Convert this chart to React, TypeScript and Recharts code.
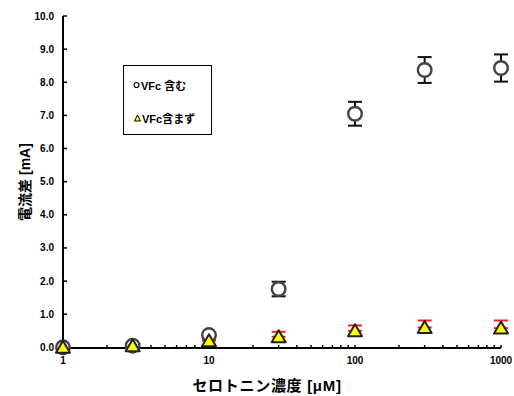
import { ScatterChart, Scatter, XAxis, YAxis, ErrorBar, Legend, Label } from "recharts";

const CONC = [1, 3, 10, 30, 100, 300, 1000];
const WITH_VFC = [0.0, 0.05, 0.37, 1.76, 7.05, 8.37, 8.43];
const WITH_VFC_ERR = [0.02, 0.03, 0.05, 0.22, 0.36, 0.39, 0.41];
const WITHOUT_VFC = [0.0, 0.05, 0.2, 0.32, 0.5, 0.6, 0.58];
const WITHOUT_VFC_ERR = [0.02, 0.03, 0.05, 0.15, 0.16, 0.21, 0.23];
const X_TICKS = [1, 2, 3, 4, 5, 6, 7, 8, 9, 10, 20, 30, 40, 50, 60, 70, 80, 90, 100, 200, 300, 400, 500, 600, 700, 800, 900, 1000];
const Y_TICKS = [0, 1, 2, 3, 4, 5, 6, 7, 8, 9, 10];

const FONT = "'Liberation Sans', Arial, 'Noto Sans CJK JP', sans-serif";

const withData = CONC.map((c, i) => ({ x: c, y: WITH_VFC[i], err: WITH_VFC_ERR[i] }));
// 含まず系列は上側のみ誤差棒が見える
const withoutData = CONC.map((c, i) => ({ x: c, y: WITHOUT_VFC[i], err: [0, WITHOUT_VFC_ERR[i]] }));

const NoMark = () => <g />;

const CircleMark = (p: any) => (
  <circle cx={p.cx} cy={p.cy} r={6.8} fill="#fff" stroke="#444" strokeWidth={2.4} />
);

const TriMark = (p: any) => {
  const { cx, cy } = p;
  return (
    <polygon
      points={`${cx},${cy - 6.5} ${cx - 7},${cy + 5.5} ${cx + 7},${cy + 5.5}`}
      fill="#ffff00"
      stroke="#222"
      strokeWidth={2}
      strokeLinejoin="round"
    />
  );
};

const LegendBox = () => (
  <div
    style={{
      width: 87, height: 68, border: "1px solid #000", background: "#fff",
      fontFamily: FONT, fontWeight: "bold", fontSize: 11, position: "relative",
    }}
  >
    <div style={{ position: "absolute", left: 9, top: 11, display: "flex", alignItems: "center" }}>
      <svg width={7} height={8} style={{ marginRight: 1 }}>
        <circle cx={3.5} cy={4} r={2.5} fill="#fff" stroke="#000" strokeWidth={1.2} />
      </svg>
      <span>VFc 含む</span>
    </div>
    <div style={{ position: "absolute", left: 10, top: 44, display: "flex", alignItems: "center" }}>
      <svg width={7} height={8} style={{ marginRight: 1 }}>
        <polygon points="3.5,1 0.5,7 6.5,7" fill="#ffff00" stroke="#000" strokeWidth={1} />
      </svg>
      <span>VFc含まず</span>
    </div>
  </div>
);

export default function App() {
  return (
    <div style={{ position: "absolute", left: 0, top: 0, background: "#fff" }}>
      <ScatterChart width={514} height={396} margin={{ top: 16, right: 13, bottom: 0, left: 0 }}>
        <XAxis
          type="number"
          dataKey="x"
          scale="log"
          domain={[1, 1000]}
          ticks={X_TICKS}
          interval={0}
          tickFormatter={(v: number) => ([1, 10, 100, 1000].includes(v) ? String(v) : "")}
          height={48}
          axisLine={{ stroke: "#000", strokeWidth: 2 }}
          tickLine={{ stroke: "#000", strokeWidth: 1.5 }}
          tickSize={-3}
          tickMargin={12}
          tick={{ fill: "#000", fontSize: 10, fontWeight: "bold", fontFamily: FONT }}
        >
          <Label
            value="セロトニン濃度 [μM]"
            position="insideBottom"
            offset={5}
            dx={-15}
            style={{ fill: "#000", fontSize: 15, letterSpacing: 0.7, fontWeight: "bold", fontFamily: FONT }}
          />
        </XAxis>
        <YAxis
          type="number"
          dataKey="y"
          domain={[0, 10]}
          ticks={Y_TICKS}
          interval={0}
          tickFormatter={(v: number) => v.toFixed(1)}
          width={63}
          axisLine={{ stroke: "#000", strokeWidth: 2 }}
          tickLine={{ stroke: "#000", strokeWidth: 1.5 }}
          tickSize={-4}
          tickMargin={13}
          tick={{ fill: "#000", fontSize: 10, fontWeight: "bold", fontFamily: FONT }}
        >
          <Label
            value="電流差 [mA]"
            angle={-90}
            position="insideLeft"
            offset={25}
            style={{ textAnchor: "middle", fill: "#000", fontSize: 14, fontWeight: "bold", fontFamily: FONT }}
          />
        </YAxis>
        <Legend
          layout="vertical"
          align="center"
          verticalAlign="middle"
          content={<LegendBox />}
          wrapperStyle={{ left: 123, top: 65, width: 89, height: 70 }}
        />
        {/* 誤差棒を先に描き、マーカーを上に重ねる */}
        <Scatter name="VFc 含む err" data={withData} shape={NoMark} isAnimationActive={false}>
          <ErrorBar dataKey="err" direction="y" width={7} stroke="#111" strokeWidth={2} isAnimationActive={false} />
        </Scatter>
        <Scatter name="VFc 含む" data={withData} shape={CircleMark} isAnimationActive={false} />
        <Scatter name="VFc含まず err" data={withoutData} shape={NoMark} isAnimationActive={false}>
          <ErrorBar dataKey="err" direction="y" width={7} stroke="#ff2020" strokeWidth={2} isAnimationActive={false} />
        </Scatter>
        <Scatter name="VFc含まず" data={withoutData} shape={TriMark} isAnimationActive={false} />
      </ScatterChart>
    </div>
  );
}
